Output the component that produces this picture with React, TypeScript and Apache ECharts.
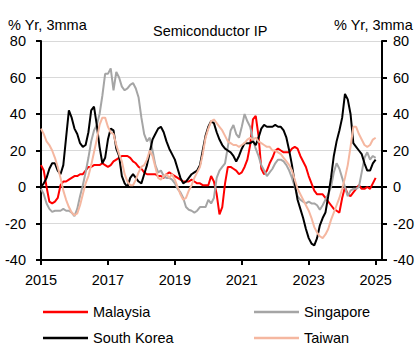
import React, { useEffect, useRef } from "react";
import * as echarts from "echarts";

// Monthly values from Jan 2015 (index 0) to Jan 2025 (index 120), % Yr, 3mma
const malaysia = [
  12, 9, 0, -8, -9, -8, -6, 1, 3, 3, 4, 5,
  6, 6, 7, 7, 9, 11, 11, 12, 12, 12, 13, 12,
  11, 12, 14, 15, 16, 17, 17, 17, 16, 14, 13, 11,
  10, 8, 7, 7, 7, 7, 6, 6, 5, 7, 8, 7,
  6, 5, 4, 3, 3, 3, 4, 3, 2, 2, 1, 1,
  1, 6, 3, -4, -15, -11, 2, 11, 11, 10, 9, 7,
  8, 11, 15, 23, 37, 39, 28, 10, 7, 9, 13, 16,
  20, 21, 20, 19, 19, 19, 21, 22, 21, 17, 14, 11,
  6, 2, -2, -4, -4, -4, -6, -8, -10, -12, -13, -14,
  -6, 0, -4, -5, -3, -1, 1, -1, -1, 0, -1, 2,
  5,
];
const singapore = [
  -1, -4, -9, -12, -13.6, -13, -13, -13, -12, -13, -13, -14,
  -16, -12, -5, 1, 8, 16, 25, 31, 34, 40, 50, 62,
  62, 65, 53, 63, 60, 55, 53, 54, 56, 57, 54, 49,
  38, 29, 25, 27, 20, 12, 8, 9, 6, 5, 5, 4,
  2, -1, -3, -6, -11, -12.5, -13, -14, -13, -11, -11, -11,
  -7, -9, -6, 5, 9, 11, 13, 22, 31, 34, 29, 27,
  33, 40, 36, 33, 26, 21, 17, 12, 9, 6, 8, 10,
  13, 15, 15, 14, 12, 9, 5, 0, -5, -7, -8, -9,
  -8, -9, -9, -10, -12.5, -10, -7, -4, 0, 8, 13, 10,
  5, 0, -5, -2, -1, -1, 0, 8, 16, 19, 15, 17,
  16,
];
const southKorea = [
  0, 2, 5, 10, 13, 13, 9, 7, 12, 27, 42, 38,
  32, 29, 24, 22, 23, 30, 42, 44, 34, 22, 13, 16,
  26, 32, 31, 21, 17, 6, 2, 0, 5, 7, 5, 3,
  2, 7, 12, 19, 26, 29, 32, 33, 30, 25, 21, 18,
  15, 10, 5, 2, 3, 5, 7, 8, 9, 12, 20, 28,
  33, 36, 35, 30, 26, 23, 21, 20, 19, 17, 14, 17,
  21, 24, 24, 24, 25, 23, 27, 32, 34, 33, 33, 33,
  34, 33, 33, 31, 27, 20, 12, 2, -7, -12, -17, -23,
  -28, -31, -32, -28, -21, -17, -14, -5, 5, 17, 25, 31,
  38, 51, 48, 40, 24, 22, 20, 18, 13, 9, 9, 13,
  15,
];
const taiwan = [
  32, 29, 25, 23, 20, 16, 11, 5, -2, -7, -11, -14,
  -15.5, -14.5, -10, -4, 2, 6, 12, 19, 26, 34, 38, 38,
  33, 30, 29, 23, 18, 14, 7, 3, 1, 1, 4, 8,
  11, 12, 15, 20, 17, 11, 5, 4, 6, 7, 5, 7,
  4, 0, -4, -7, -6, -2, 1, 5, 8, 11, 18, 27,
  32, 36, 37, 35, 33, 31, 28, 25, 24, 23, 23, 22,
  23, 24, 26, 27, 26, 27, 25, 24, 23, 22, 22, 20,
  20, 19, 18, 16, 14, 12, 9, 4, -1, -4, -7, -10,
  -13, -17, -22, -25, -27, -28, -26, -23, -18, -14, -10, -6,
  -1, 5, 12, 22, 33, 33, 29, 26, 23, 22, 23, 26,
  27,
];
const seriesNames = ["Malaysia", "Singapore", "South Korea", "Taiwan"];
const seriesColors = ["#FF0000", "#A5A5A5", "#000000", "#F5B7A0"];
const startYear = 2015;
const yTicks = { min: -40, max: 80, interval: 20 };

const FONT = "'Liberation Sans', Arial, sans-serif";

export default function App() {
  const ref = useRef<HTMLDivElement>(null);
  useEffect(() => {
    if (!ref.current) return;
    const chart = echarts.init(ref.current, undefined, { renderer: "svg" });
    const all = [malaysia, singapore, southKorea, taiwan];
    const toPairs = (arr: number[]) => arr.map((v, i) => [i / 12, v]);
    const yAxisBase = {
      type: "value" as const,
      min: yTicks.min,
      max: yTicks.max,
      interval: yTicks.interval,
      axisLine: { show: true, lineStyle: { color: "#000", width: 2 } },
      axisTick: { show: true, length: 5, lineStyle: { color: "#000", width: 2 } },
      axisLabel: { color: "#000", fontSize: 14.5, fontFamily: FONT },
    };
    const legendPos = [
      { left: 43, top: 304 },
      { left: 254, top: 304 },
      { left: 43, top: 330 },
      { left: 254, top: 330 },
    ];
    chart.setOption({
      animation: false,
      backgroundColor: "#fff",
      textStyle: { fontFamily: FONT },
      grid: { left: 41, right: 35, top: 41, bottom: 94, containLabel: false },
      graphic: [
        { type: "text", left: 8, top: 17, style: { text: "% Yr, 3mma", font: `14.5px ${FONT}`, fill: "#000" } },
        { type: "text", right: 4, top: 17, style: { text: "% Yr, 3mma", font: `14.5px ${FONT}`, fill: "#000" } },
        { type: "text", left: 153, top: 23, style: { text: "Semiconductor IP", font: `14.5px ${FONT}`, fill: "#000" } },
      ],
      xAxis: {
        type: "value",
        min: 0,
        max: 10.19,
        interval: 2,
        axisLine: { show: true, onZero: false, lineStyle: { color: "#000", width: 2 } },
        axisTick: { show: true, length: 5, inside: false, lineStyle: { color: "#000", width: 2 } },
        axisLabel: {
          color: "#000",
          fontSize: 14.5,
          fontFamily: FONT,
          margin: 12,
          showMaxLabel: false,
          formatter: (v: number) => String(startYear + Math.round(v)),
        },
        splitLine: { show: false },
      },
      yAxis: [
        {
          ...yAxisBase,
          position: "left",
          axisLabel: { ...yAxisBase.axisLabel, margin: 15 },
          splitLine: { show: true, lineStyle: { color: "#D9D9D9", width: 1 } },
        },
        {
          ...yAxisBase,
          position: "right",
          axisLabel: { ...yAxisBase.axisLabel, margin: 11 },
          splitLine: { show: false },
        },
      ],
      legend: seriesNames.map((name, i) => ({
        data: [name],
        left: legendPos[i].left,
        top: legendPos[i].top,
        padding: 0,
        icon: "rect",
        itemWidth: 45,
        itemHeight: 2.5,
        itemGap: 5,
        textStyle: { fontSize: 14.5, fontFamily: FONT, color: "#000", lineHeight: 16 },
      })),
      series: all.map((arr, i) => ({
        name: seriesNames[i],
        type: "line",
        data: toPairs(arr),
        symbol: "none",
        smooth: false,
        lineStyle: { color: seriesColors[i], width: 2 },
        itemStyle: { color: seriesColors[i] },
        z: 3 + i,
        ...(i === 0
          ? {
              markLine: {
                silent: true,
                symbol: "none",
                label: { show: false },
                lineStyle: { color: "#000", width: 2, type: "solid" },
                data: [{ yAxis: 0 }],
                z: 2,
              },
            }
          : {}),
      })),
    });
    return () => chart.dispose();
  }, []);
  return <div ref={ref} style={{ width: 417, height: 354, position: "absolute", left: 0, top: 0 }} />;
}
